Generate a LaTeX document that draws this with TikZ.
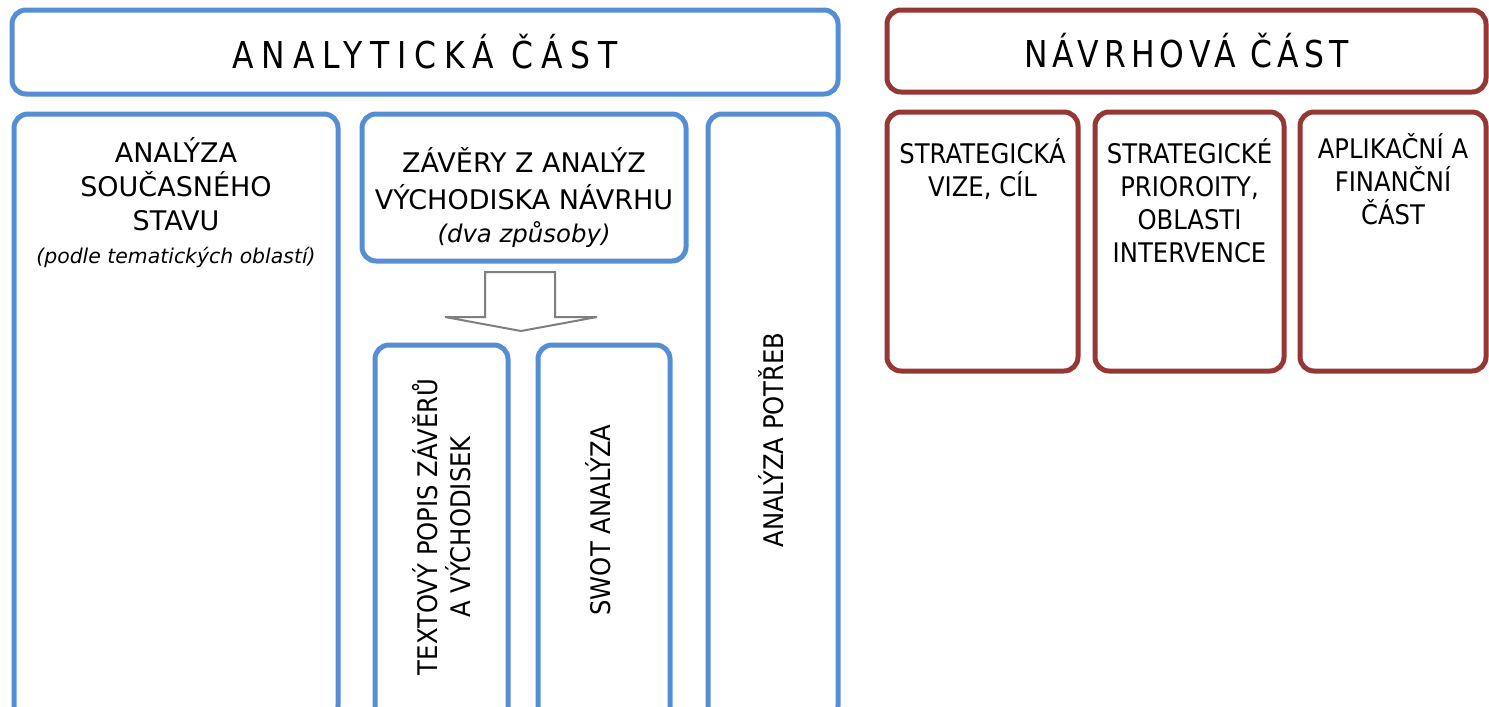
\documentclass[tikz,border=0pt]{standalone}
\usepackage{fontspec}
\setmainfont{DejaVu Sans}
\newfontfamily\narrowfont[FakeStretch=0.9]{DejaVu Sans}
\newfontfamily\titlefont[FakeStretch=0.85,LetterSpace=21]{DejaVu Sans}
\newfontfamily\navrhfont[FakeStretch=0.85,LetterSpace=14]{DejaVu Sans}
\usetikzlibrary{positioning}
\definecolor{anablue}{RGB}{85,142,213}
\definecolor{navred}{RGB}{149,55,53}
\definecolor{arrowgray}{RGB}{127,127,127}

\begin{document}
\begin{tikzpicture}[x=0.5pt, y=-0.5pt,
    every node/.style={align=center, inner sep=0pt, outer sep=0pt},
    bluebox/.style={draw=anablue, line width=2.5pt, rounded corners=7pt, anchor=north west},
    redbox/.style={draw=navred, line width=2.5pt, rounded corners=7pt, anchor=north west},
    boxtext/.style={font=\fontsize{13.5}{17}\selectfont},
    narrowtext/.style={font=\narrowfont\fontsize{13.5}{16.5}\selectfont},
    notetext/.style={font=\itshape\fontsize{10.2}{12}\selectfont}]
    \useasboundingbox (0,0) rectangle (1489,707);
    \clip (0,0) rectangle (1489,707);

    % analyticka cast
    \node (analytic) [bluebox, font=\titlefont\fontsize{18.5}{20}\selectfont, minimum width=413pt, minimum height=42pt] at (12,10) {ANALYTICKÁ ČÁST};

    \node (soucasny) [bluebox, minimum width=162pt, minimum height=303pt] at (14,114) {};
    \node (soucasny_label) [boxtext, below=11.5pt of soucasny.north] {ANALÝZA\\SOUČASNÉHO\\STAVU};
    \node (soucasny_note) [notetext, below=8.5pt of soucasny_label] {(podle tematických oblastí)};

    \node (zavery) [bluebox, minimum width=162pt, minimum height=73.5pt] at (362,114) {};
    \node (zavery_label) [boxtext, below=16.5pt of zavery.north, font=\fontsize{13.5}{18.5}\selectfont] {ZÁVĚRY Z ANALÝZ\\VÝCHODISKA NÁVRHU};
    \node (zavery_note) [notetext, below=6pt of zavery_label, font=\itshape\fontsize{12.2}{14}\selectfont] {(dva způsoby)};

    \node (potreby) [bluebox, minimum width=65pt, minimum height=303pt] at (708,114) {};
    \node (potreby_label) [narrowtext, rotate=90] at (771,440) {ANALÝZA POTŘEB};

    % dva zpusoby
    \draw[arrowgray, line width=1pt, fill=white] (485,272) -- (555,272) -- (555,317) -- (597,317)
        -- (521,331) -- (445,317) -- (485,317) -- cycle;

    \node (textovy) [bluebox, minimum width=66.5pt, minimum height=190pt] at (375,345) {};
    \node (textovy_label) [narrowtext, rotate=90] at (442,527) {TEXTOVÝ POPIS ZÁVĚRŮ\\A VÝCHODISEK};

    \node (swot) [bluebox, minimum width=66pt, minimum height=190pt] at (538,345) {};
    \node (swot_label) [narrowtext, rotate=90] at (598,520) {SWOT ANALÝZA};

    % navrhova cast
    \node (navrh) [redbox, font=\navrhfont\fontsize{18.5}{20}\selectfont, minimum width=299.5pt, minimum height=41pt] at (887,10) {NÁVRHOVÁ ČÁST};

    \node (vize) [redbox, minimum width=95.5pt, minimum height=129.5pt] at (887,112) {};
    \node (vize_label) [narrowtext, below=13pt of vize.north] {STRATEGICKÁ\\VIZE, CÍL};

    \node (priority) [redbox, minimum width=94.5pt, minimum height=129.5pt] at (1095,112) {};
    \node (priority_label) [narrowtext, below=13pt of priority.north] {STRATEGICKÉ\\PRIOROITY,\\OBLASTI\\INTERVENCE};

    \node (financni) [redbox, minimum width=93pt, minimum height=129.5pt] at (1300,112) {};
    \node (financni_label) [narrowtext, below=10.5pt of financni.north] {APLIKAČNÍ A\\FINANČNÍ\\ČÁST};
\end{tikzpicture}
\end{document}
